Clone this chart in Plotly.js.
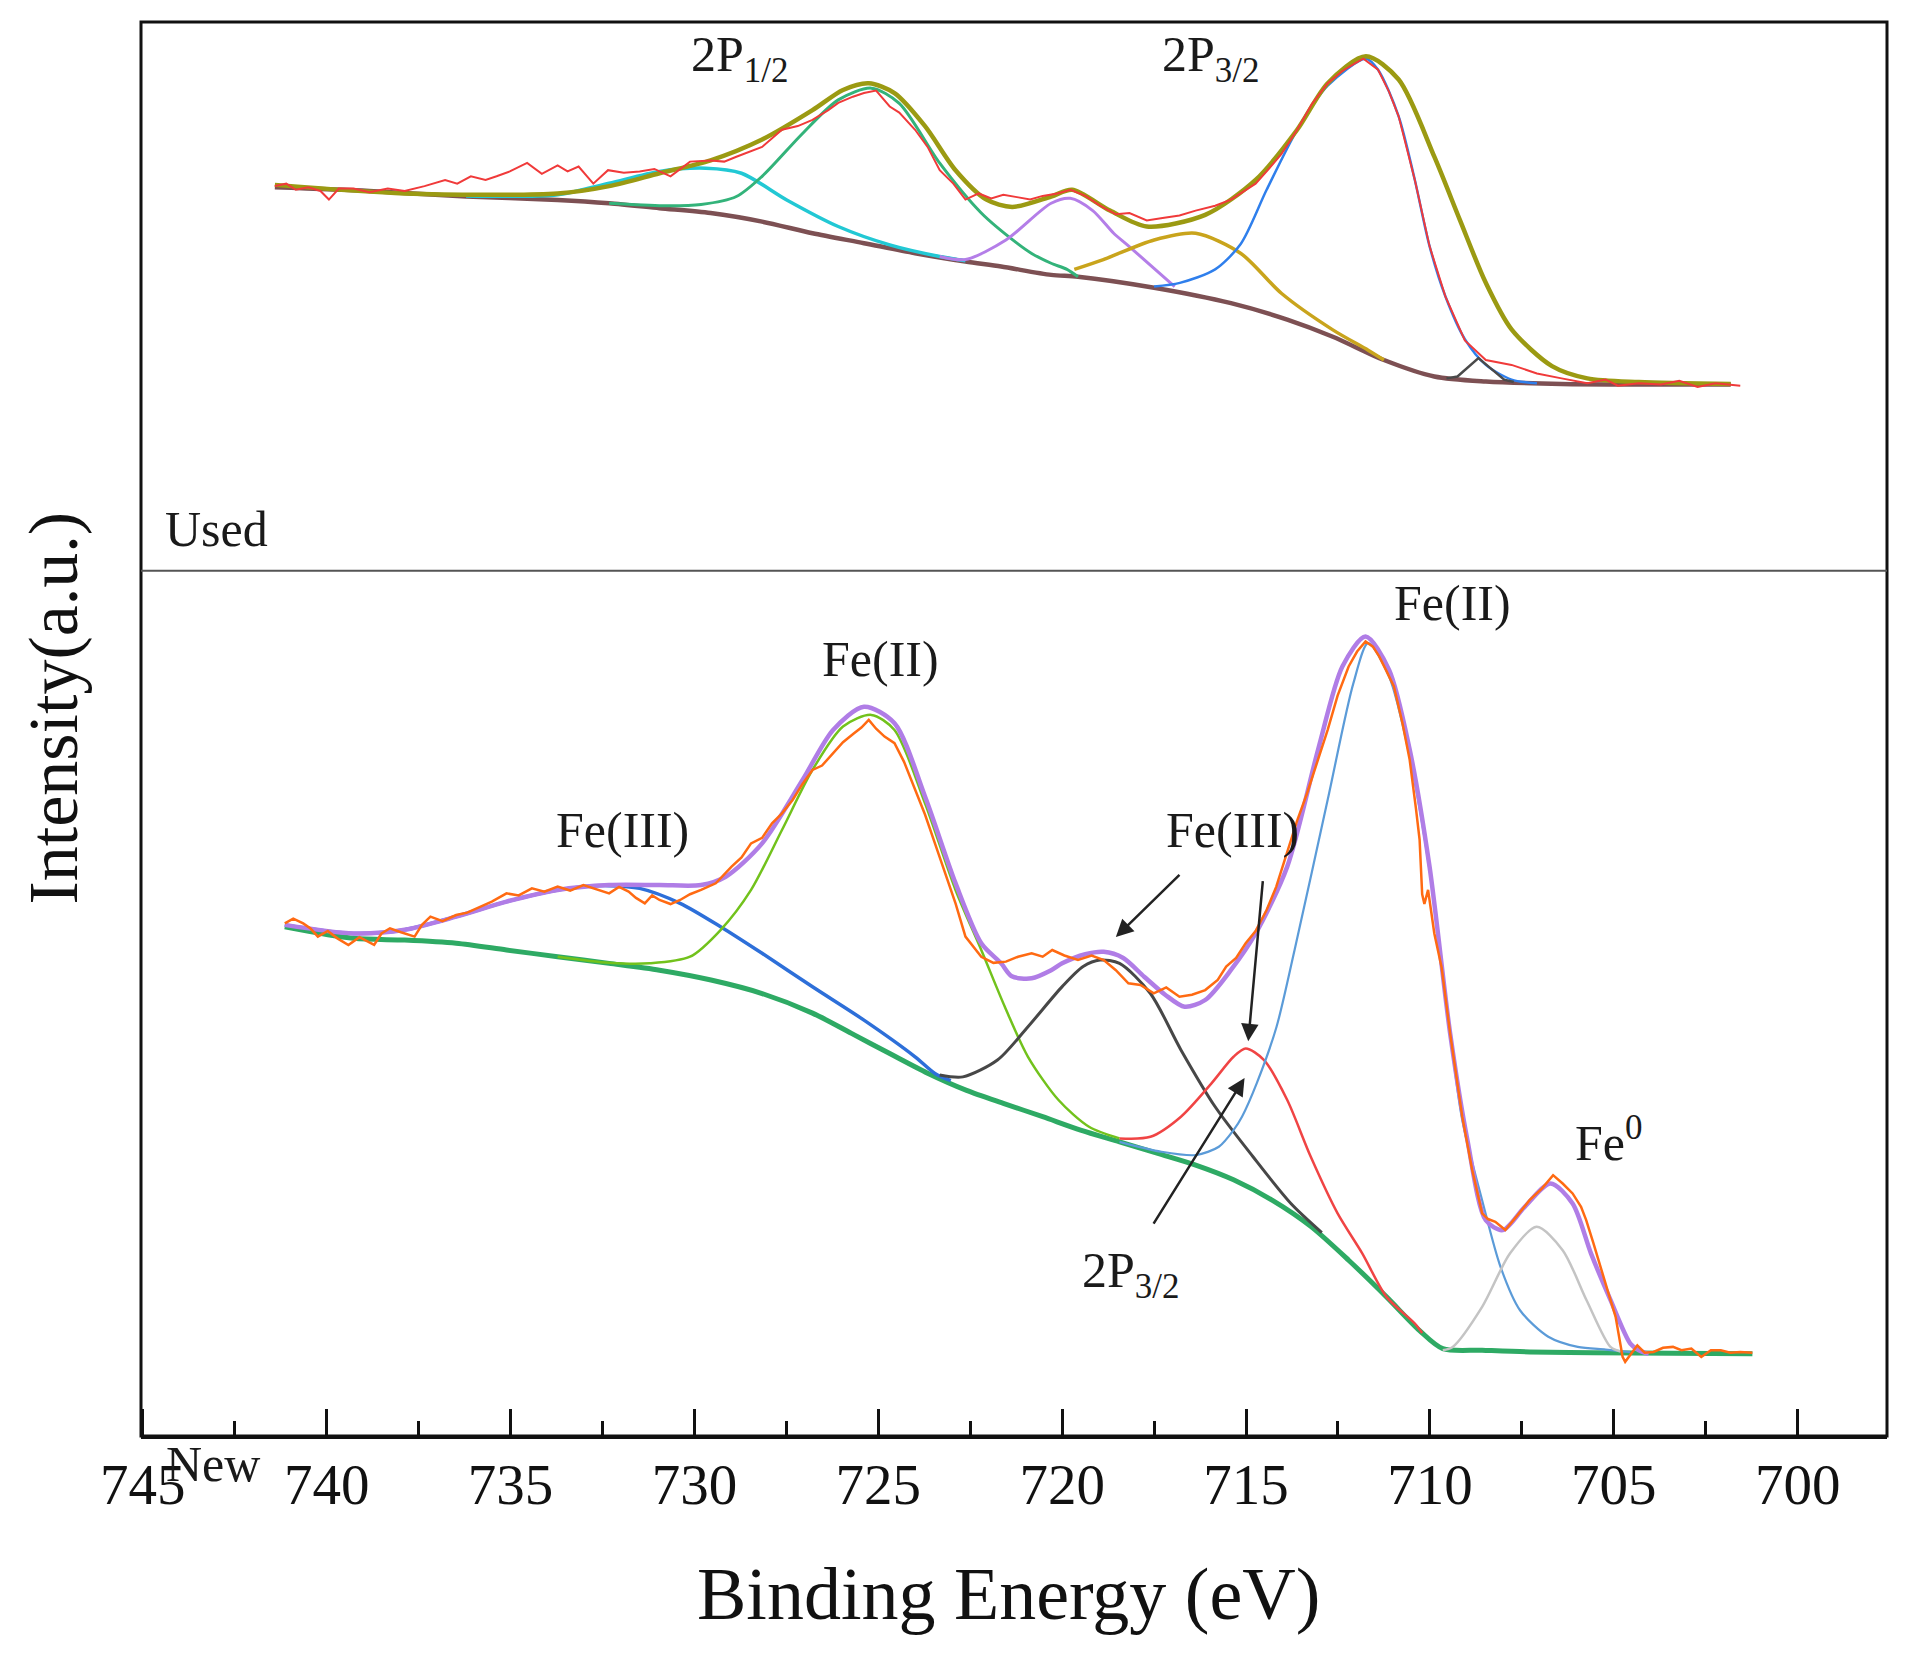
<!DOCTYPE html>
<html>
<head>
<meta charset="utf-8">
<script src="https://cdn.plot.ly/plotly-3.0.1.min.js"></script>
<style>
  html, body { margin: 0; padding: 0; background: #fff; }
  #chart { width: 1911px; height: 1656px; }
</style>
</head>
<body>
<div id="chart"></div>
<script>
// Fe 2p XPS, binding energy (eV) vs intensity (a.u.); pairs are [eV, counts]

// ---- Used sample (top panel) ----
const usedRaw = [
  [741.41,314],[741.1,316],[740.84,311],[740.5,313],[740.17,310],[739.94,303],[739.67,312],[739.27,312],
  [738.84,309],[738.34,312],[737.88,310],[737.34,314],[736.78,319],[736.45,316],[736.08,322],[735.68,319],
  [735.38,322],[735.02,326],[734.55,333],[734.15,324],[733.72,331],[733.45,326],[733.15,330],[732.75,316],
  [732.35,327],[731.92,325],[731.49,326],[731.09,328],[730.65,322],[730.12,334],[729.56,335],[729.19,334],
  [728.86,338],[728.16,346],[727.62,360],[727.19,363],[726.79,368],[726.36,376],[726.09,382],[725.69,387],
  [725.39,390],[725.06,392],[724.69,379],[724.43,374],[724.0,360],[723.66,346],[723.33,327],[722.96,316],
  [722.63,303],[722.27,308],[721.93,304],[721.6,307],[721.23,305],[720.87,303],[720.53,306],[720.13,308],
  [719.77,311],[719.37,306],[718.97,298],[718.54,291],[718.17,292],[717.7,286],[717.27,288],[716.81,290],
  [716.37,294],[715.84,298],[715.41,303],[715.14,308],[714.74,316],[714.44,326],[714.04,340],[713.61,360],
  [713.21,381],[712.78,398],[712.38,408],[712.05,414],[711.81,418],[711.41,409],[711.11,391],[710.85,371],
  [710.41,319],[710.01,265],[709.58,224],[709.05,188],[708.48,172],[707.78,168],[707.09,161],[706.42,157],
  [705.72,153],[705.22,156],[704.89,151],[704.32,153],[703.72,152],[703.22,155],[702.72,150],[702.23,153],
  [701.56,151]
];
const usedEnvelope = [
  [741.41,315],[737.88,308],[733.72,308],[732.32,314],[730.95,324.5],[729.56,335],[728.16,352],[726.79,376],
  [725.96,392.5],[725.26,398],[724.56,390],[723.73,363],[722.9,327],[722.06,303],[721.36,297],[720.3,305.5],
  [719.73,311],[718.7,294],[717.7,281],[716.11,290.5],[714.74,319],[713.61,360],[712.78,398],[711.74,420],
  [710.85,401],[709.88,338],[709.18,286],[708.48,235],[707.78,197],[706.68,167],[705.72,157],[704.32,154],
  [701.82,152.5]
];
const usedBackground = [
  [741.41,313],[738.84,310],[736.21,305.5],[733.72,302.7],[732.32,300],[730.95,296],[729.56,292],[728.16,285],
  [726.79,275.5],[725.39,267.4],[724.0,259.2],[722.63,252.4],[721.66,248.3],[720.3,241.5],[719.57,240],[717.5,231],
  [715.41,218.4],[713.88,205],[712.64,191],[711.25,172],[709.88,158.5],[708.48,154.4],[706.42,152.5],[701.82,152]
];
const usedSat12 = [
  [736.21,306],[733.72,307],[732.32,316.3],[730.95,326],[729.69,328.6],[728.72,324.5],[727.49,302.7],
  [726.09,281],[724.69,266],[723.33,256.5],[722.63,253]
];
const usedFe12 = [
  [732.32,300],[730.85,298],[729.82,299],[728.86,305.5],[728.16,322],[727.06,357],[726.09,384.4],[725.19,394],
  [724.43,381.6],[723.33,332.7],[722.2,292],[721.23,267.4],[720.83,259],[720.3,251],[719.87,246],[719.57,240]
];
const usedSatA = [
  [723.33,256.5],[722.63,254],[721.53,270],[720.3,300],[719.78,304],[719.17,294],[718.6,275.5],[718.19,265],[716.94,232]
];
const usedSatB = [
  [719.67,246],[718.88,254],[717.5,270],[716.37,275.5],[715.14,259],[714.04,226.5],[712.64,196.6],[711.68,180],[711.25,172]
];
const usedFe32 = [
  [717.5,232],[716.8,235],[715.84,246],[715.14,267],[714.44,311],[713.61,360],[712.78,396],[711.74,418],
  [711.41,409],[710.85,371],[710.41,319],[710.01,265],[709.58,224],[709.05,189],[708.48,168],[707.78,156],[707.09,153]
];
const usedFe0 = [[709.55,157],[709.25,158.5],[708.68,173.5],[707.98,156],[707.72,154]];

// ---- New sample (bottom panel) ----
const newRaw = [
  [741.14,418.2],[740.91,422],[740.64,418.2],[740.44,414],[740.24,407.4],[739.97,412],[739.71,406],[739.41,400.6],
  [739.11,407],[738.91,404],[738.71,400.6],[738.51,410],[738.28,414.2],[737.98,411],[737.61,407.4],[737.41,417],
  [737.18,423.7],[736.85,420],[736.48,425],[736.18,427],[735.81,431.9],[735.51,436],[735.11,442.7],[734.78,441],
  [734.42,446.8],[734.08,444],[733.72,448.2],[733.38,445],[733.02,449.5],[732.68,446],[732.32,442.7],[732.05,448],
  [731.79,444.1],[731.59,439],[731.35,434.6],[731.15,441],[730.95,437.3],[730.65,434],[730.39,437.3],[730.12,442],
  [729.82,445.5],[729.42,450.9],[728.99,464.5],[728.72,472],[728.46,483.5],[728.16,488],[727.89,499.9],[727.62,508],
  [727.33,518.9],[727.06,532],[726.79,543.4],[726.53,547],[726.23,557],[725.96,566],[725.66,573.3],[725.46,578],
  [725.26,584.2],[725.06,577],[724.83,570.6],[724.56,565.2],[724.3,550],[724.0,527.1],[723.73,507],[723.46,483.5],
  [723.2,460],[722.9,434.6],[722.63,407.4],[722.2,391],[721.87,386],[721.53,387],[721.2,391],[720.83,393.8],
  [720.53,391],[720.27,396.5],[719.94,392],[719.57,388.3],[719.2,392],[718.87,388.3],[718.54,380],[718.2,369.3],
  [717.87,368],[717.51,361.1],[717.17,366],[716.81,358.4],[716.47,360],[716.11,363.8],[715.77,372],[715.54,383],
  [715.27,390],[715.01,402],[714.74,412],[714.44,429.1],[714.18,448],[713.88,475.4],[713.61,502],[713.34,524.4],
  [713.04,552],[712.78,576.1],[712.51,604],[712.21,627.8],[711.98,640],[711.75,648.2],[711.55,644],[711.38,636],
  [711.18,624],[710.98,611.5],[710.75,582],[710.55,551.6],[710.38,512],[710.28,486.3],[710.21,442],[710.15,434],
  [710.05,445.5],[709.88,410],[709.68,382],[709.45,328.5],[709.12,260.5],[708.85,217],[708.58,181.6],[708.42,177],
  [708.22,174.8],[707.95,168],[707.62,180],[707.29,192.4],[706.95,202],[706.65,212.8],[706.39,206],[706.12,197.9],
  [705.89,187],[705.75,176.1],[705.55,157],[705.35,138],[705.15,117],[704.95,97.2],[704.76,64.5],[704.69,60.5],
  [704.52,68],[704.36,74],[704.16,68],[703.92,68.6],[703.66,72],[703.39,72.7],[703.16,70],[702.89,71.3],
  [702.62,64.5],[702.36,70],[702.09,70],[701.83,68],[701.56,68.6],[701.23,68]
];
const newEnvelope = [
  [741.14,417],[739.27,410],[737.88,413],[736.48,423.7],[735.11,436],[733.72,445.5],[732.32,449.5],[730.95,449.5],
  [729.82,449.5],[729.15,456.3],[728.16,483.5],[727.06,535.2],[726.23,576],[725.39,595],[724.56,581.5],[723.73,521.7],
  [722.9,451],[722.2,402],[721.66,385.6],[721.37,375],[720.83,373.4],[720.3,380],[720.0,385.6],[719.37,393],
  [718.87,395],[718.34,390],[717.77,374.7],[717.2,360],[716.67,350.2],[716.11,355.7],[715.41,380.2],[714.74,410],
  [713.88,464.5],[713.04,560],[712.38,627.8],[711.75,652.3],[711.11,625],[710.55,560],[710.01,464.5],[709.45,328.5],
  [708.98,241.4],[708.48,176],[708.02,168],[707.42,187],[706.72,206],[706.12,189.7],[705.62,149],[705.09,111],
  [704.55,75.4],[704.32,70],[704.05,67]
];
const newBackground = [
  [741.14,415.5],[739.27,406],[737.88,404.6],[736.48,402],[735.11,396.5],[733.72,391],[732.32,385.6],[730.95,380],
  [729.55,372],[728.16,361],[726.79,345],[725.73,328.5],[724.69,312],[723.66,296],[722.6,282],[721.56,271],
  [720.53,260.5],[719.5,249.6],[718.44,240],[717.4,230.5],[716.37,221],[715.34,209],[714.27,192],[713.24,171],
  [712.21,143.4],[711.18,113.5],[710.28,86],[709.65,71.3],[708.58,70],[707.28,68.6],[705.55,68],[701.23,67]
];
const newSat12 = [
  [741.14,417],[739.27,410],[737.88,413],[736.48,423.7],[735.11,436],[733.72,445.5],[733.02,448.2],[732.32,449],
  [731.49,446.8],[730.39,434.6],[729.29,415.5],[728.16,393.8],[726.79,366.5],[725.39,339.3],[724.0,309.4],
  [723.46,295.8],[723.03,290]
];
const newFe12 = [
  [733.72,391],[732.32,386],[731.22,385.6],[730.12,391],[729.29,412.8],[728.46,445.5],[727.62,494.4],[726.79,543.4],
  [725.96,578.8],[725.19,588.3],[724.56,576],[723.73,516.2],[722.9,445.5],[722.2,396.5],[721.56,350.2],[720.93,309.4],
  [720.1,274.1],[719.27,252.3],[718.44,242.8]
];
const newSat32 = [
  [723.33,294.5],[722.7,293],[721.76,306.7],[720.93,333.9],[720.0,366.6],[719.43,383],[718.97,388.3],[718.44,385.6],
  [717.6,361],[716.77,315],[715.84,268.6],[714.81,227.8],[713.78,189.7],[712.94,166]
];
const newFe3 = [
  [718.44,242.8],[717.6,244.1],[716.77,260.5],[715.94,287.7],[715.34,309.4],[715.01,316.2],[714.51,306.7],[713.88,274.1],
  [713.24,227.8],[712.51,181.6],[711.84,149],[711.18,113.5],[710.41,91.8],[710.21,84]
];
const newFe32 = [
  [718.44,240],[717.3,231.9],[716.37,229.2],[715.74,236],[715.34,249.6],[715.11,260.5],[714.71,287.7],[714.17,333.9],
  [713.68,396.5],[712.78,519],[712.08,614.2],[711.68,646.8],[711.11,619.6],[710.55,554.3],[710.01,461.8],[709.45,328.5],
  [709.12,257.7],[708.58,192.4],[708.08,138],[707.55,102.6],[706.78,81],[705.98,72.7],[705.22,70.5],[704.55,68.5]
];
const newFe0 = [
  [709.65,70],[709.38,72.7],[708.58,105.4],[707.82,149],[707.1,170.7],[706.39,151.6],[705.74,110.8],[705.09,72.7],[704.82,69]
];

const xTickVals = [745, 740, 735, 730, 725, 720, 715, 710, 705, 700];
const xMinorVals = [742.5, 737.5, 732.5, 727.5, 722.5, 717.5, 712.5, 707.5, 702.5];

const SERIF = 'Liberation Serif, Times New Roman, serif';

function line(pairs, yaxis, color, width, smooth) {
  return {
    x: pairs.map(p => p[0]),
    y: pairs.map(p => p[1]),
    xaxis: 'x',
    yaxis,
    type: 'scatter',
    mode: 'lines',
    line: smooth ? { color, width, shape: 'spline', smoothing: 0.8 } : { color, width },
    hoverinfo: 'skip',
    showlegend: false,
  };
}

const traces = [
  // used
  line(usedBackground, 'y2', '#7d5053', 4.5, true),
  line(usedSat12, 'y2', '#22c8d4', 3.5, true),
  line(usedFe12, 'y2', '#33b37a', 3, true),
  line(usedSatA, 'y2', '#b47ee8', 3, true),
  line(usedSatB, 'y2', '#c9a41c', 3.5, true),
  line(usedFe32, 'y2', '#2f7fec', 2.5, true),
  line(usedFe0, 'y2', '#4a4a4a', 2.5, false),
  line(usedEnvelope, 'y2', '#9b9a12', 4.5, true),
  line(usedRaw, 'y2', '#f03a3a', 2, false),
  // new
  line(newBackground, 'y', '#2eaa64', 5, true),
  line(newSat12, 'y', '#2d6fd9', 3.5, true),
  line(newFe12, 'y', '#72c21c', 2.5, true),
  line(newSat32, 'y', '#474747', 3, true),
  line(newFe3, 'y', '#f04444', 2.5, true),
  line(newFe32, 'y', '#5b9bd8', 2.2, true),
  line(newFe0, 'y', '#c4c4c4', 2.5, true),
  line(newEnvelope, 'y', '#b07de6', 4.5, true),
  line(newRaw, 'y', '#ff6a12', 2.5, false),
];

const labelFont = { family: SERIF, size: 50, color: '#1a1a1a' };

function label(text, x, y, yref, extra) {
  return Object.assign({ text, x, y, xref: 'x', yref, showarrow: false, font: labelFont }, extra || {});
}

function arrow(tail, head) {
  return {
    x: head[0], y: head[1], ax: tail[0], ay: tail[1],
    xref: 'x', yref: 'y', axref: 'x', ayref: 'y',
    text: '', showarrow: true, arrowhead: 2, arrowsize: 1.4, arrowwidth: 2.5, arrowcolor: '#222',
  };
}

const annotations = [
  label('2P<sub>1/2</sub>', 728.76, 419, 'y2'),
  label('2P<sub>3/2</sub>', 715.94, 419, 'y2'),
  label('Used', 744.45, 34, 'y2', { xanchor: 'left' }),
  label('Fe(II)', 724.93, 634, 'y'),
  label('Fe(II)', 709.38, 680, 'y'),
  label('Fe(III)', 731.95, 494, 'y'),
  label('Fe(III)', 715.37, 494, 'y'),
  label('Fe<sup>0</sup>', 705.12, 242, 'y'),
  label('2P<sub>3/2</sub>', 718.14, 132, 'y'),
  label('New', 743.1, -0.041, 'paper'),
  arrow([716.77, 459], [718.54, 407]),
  arrow([714.54, 454], [714.94, 322]),
  arrow([717.54, 172], [715.04, 292]),
  {
    text: 'Binding Energy (eV)', xref: 'paper', yref: 'paper', x: 0.497, y: -0.112,
    xanchor: 'center', yanchor: 'middle', showarrow: false,
    font: { family: SERIF, size: 74, color: '#111' },
  },
  {
    text: 'Intensity(a.u.)', xref: 'paper', yref: 'paper', x: -0.05, y: 0.515,
    xanchor: 'center', yanchor: 'middle', textangle: -90, showarrow: false,
    font: { family: SERIF, size: 70, color: '#111' },
  },
];

const layout = {
  width: 1911,
  height: 1656,
  margin: { l: 141, r: 24, t: 22, b: 220 },
  paper_bgcolor: '#ffffff',
  plot_bgcolor: '#ffffff',
  showlegend: false,
  xaxis: {
    range: [745.05, 697.57],
    anchor: 'y',
    tickvals: xTickVals,
    ticktext: xTickVals.map(String),
    ticks: 'inside',
    ticklen: 27,
    tickwidth: 3,
    tickcolor: '#111',
    minor: { tickvals: xMinorVals, ticks: 'inside', ticklen: 15, tickwidth: 3, tickcolor: '#111' },
    showgrid: false,
    zeroline: false,
    showline: true,
    linewidth: 3,
    linecolor: '#111',
    tickfont: { family: SERIF, size: 57, color: '#111' },
    ticklabelstandoff: -3,
  },
  yaxis: { domain: [0, 0.612], range: [0, 706], visible: false, fixedrange: true },
  yaxis2: { domain: [0.612, 1], range: [0, 448], visible: false, anchor: 'x', fixedrange: true },
  shapes: [
    { type: 'rect', xref: 'paper', yref: 'paper', x0: 0, x1: 1, y0: 0, y1: 1, line: { color: '#111', width: 3 } },
    { type: 'line', xref: 'paper', yref: 'paper', x0: 0, x1: 1, y0: 0.612, y1: 0.612, line: { color: '#555', width: 2 } },
  ],
  annotations,
};

Plotly.newPlot('chart', traces, layout, { displayModeBar: false, staticPlot: true });
</script>
</body>
</html>
